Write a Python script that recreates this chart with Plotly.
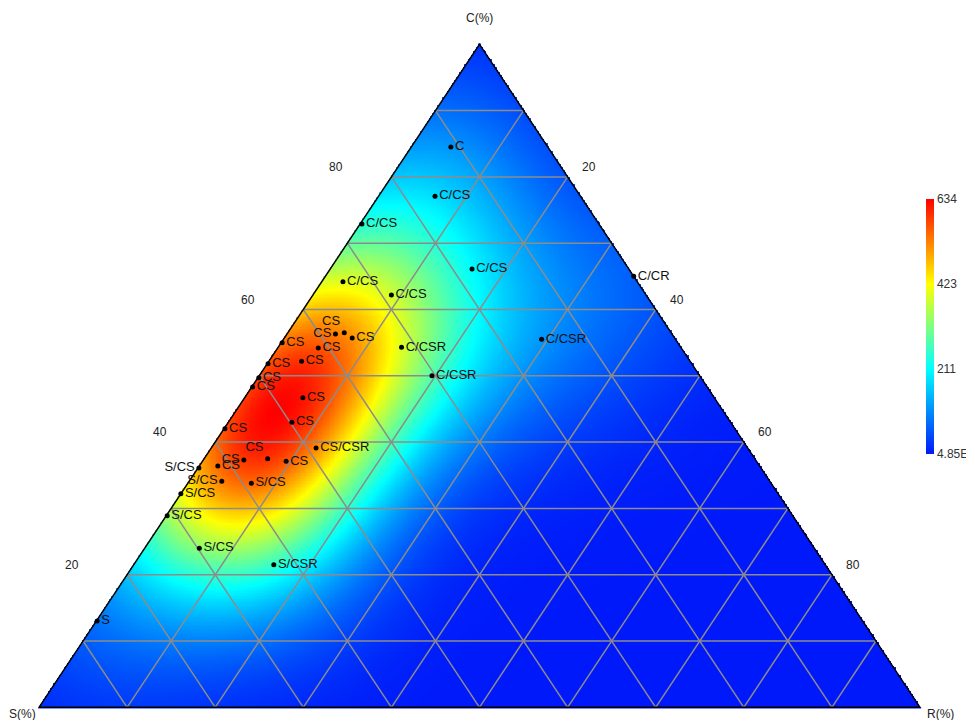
import numpy as np
import plotly.graph_objects as go

# ---- data (percentages) ----
labels = ["C", "C/CS", "C/CS", "C/CS", "C/CS", "C/CS", "C/CR", "C/CSR", "C/CSR", "C/CSR",
          "CS", "CS", "CS", "CS", "CS", "CS", "CS", "CS", "CS", "CS", "CS", "CS",
          "CS/CSR", "CS", "CS", "CS", "CS",
          "S/CS", "S/CS", "S/CS", "S/CS", "S/CS", "S/CS", "S/CSR", "S"]
C_vals = [84.5, 77.1, 72.9, 64.2, 62.2, 66.1, 65.0, 55.5, 54.3, 50.0,
          56.3, 56.5, 55.7, 55.0, 54.2, 52.2, 51.8, 49.7, 48.3, 46.7, 43.0, 42.0,
          39.1, 37.5, 37.3, 37.1, 36.4,
          36.1, 34.1, 33.8, 32.2, 28.9, 24.0, 21.5, 13.0]
R_vals = [4.5, 6.4, 0.2, 2.4, 8.9, 16.1, 35.0, 29.3, 14.0, 19.6,
          5.5, 6.4, 7.7, 0.1, 4.6, 3.7, 0.1, 0.1, 0.1, 6.6, 7.2, 0.1,
          11.9, 7.2, 4.6, 9.5, 2.1,
          0.1, 3.7, 7.2, 0.0, 0.1, 6.2, 15.9, 0.1]
S_vals = [100 - c - r for c, r in zip(C_vals, R_vals)]
label_pos = ["middle right"] * len(labels)
for i, p in [(10, "middle left"), (11, "top left"), (23, "top left"), (24, "middle left"),
             (27, "middle left"), (28, "middle left")]:
    label_pos[i] = p

grid_levels = [10, 20, 30, 40, 50, 60, 70, 80, 90]
tick_levels = [20, 40, 60, 80]
cbar_vals = [0, 211, 423, 634]
cbar_text = ["4.85E", "211", "423", "634"]
zmax = 634

# ---- geometry helpers (ternary -> cartesian, unit base, C as height) ----
def tx(c, r):
    return r / 100.0 + c / 200.0

def ty(c):
    return c / 100.0

PXW, PXH = 881.0, 663.0  # rendered size of triangle in pixels
OFF = 8  # page body margin offset of the browser

# ---- density field (Gaussian kernel estimate from the points) ----
nx, ny = 520, 420
gx = np.linspace(0, 1, nx)
gy = np.linspace(0, 1, ny)
GX, GY = np.meshgrid(gx, gy)
px = np.array([tx(c, r) for c, r in zip(C_vals, R_vals)]) * PXW
py = np.array([ty(c) for c in C_vals]) * PXH
sigma = 78.0
dens = np.zeros_like(GX)
for a, b in zip(px, py):
    dens += np.exp(-((GX * PXW - a) ** 2 + (GY * PXH - b) ** 2) / (2 * sigma ** 2))
z = dens / dens.max() * zmax
inside = (GX >= GY / 2 - 1e-3) & (GX <= 1 - GY / 2 + 1e-3)
z = np.where(inside, z, np.nan)

colorscale = [[0.0, "rgb(0,25,250)"], [1 / 3, "rgb(0,255,255)"],
              [2 / 3, "rgb(255,255,0)"], [1.0, "rgb(255,0,0)"]]

fig = go.Figure()
fig.add_trace(go.Heatmap(
    x=gx, y=gy, z=z, zmin=0, zmax=zmax, colorscale=colorscale, zsmooth=False,
    hoverinfo="skip",
    colorbar=dict(thickness=8, len=255 / 720, lenmode="fraction", x=(926 - OFF) / 974, xanchor="left",
                  y=1 - (199 - OFF) / 720, yanchor="top", outlinewidth=0, ticks="",
                  tickvals=cbar_vals, ticktext=cbar_text, xpad=0, ypad=0,
                  tickfont=dict(family="Liberation Sans, Arial", size=12, color="#333"))))

# grid lines
lx, ly = [], []
for v in grid_levels:
    lx += [tx(v, 0), tx(v, 100 - v), None]; ly += [ty(v), ty(v), None]
    lx += [tx(0, v), tx(100 - v, v), None]; ly += [ty(0), ty(100 - v), None]
    lx += [tx(0, 100 - v), tx(100 - v, 0), None]; ly += [ty(0), ty(100 - v), None]
fig.add_trace(go.Scatter(x=lx, y=ly, mode="lines", line=dict(color="rgb(140,140,140)", width=1.5),
                         hoverinfo="skip", showlegend=False))

# border
bx = [tx(0, 0), tx(0, 100), tx(100, 0), tx(0, 0)]
by = [ty(0), ty(0), ty(100), ty(0)]
fig.add_trace(go.Scatter(x=bx, y=by, mode="lines", line=dict(color="black", width=1.5),
                         hoverinfo="skip", showlegend=False))

# points
fig.add_trace(go.Scatter(
    x=[tx(c, r) for c, r in zip(C_vals, R_vals)], y=[ty(c) for c in C_vals],
    mode="markers+text", text=labels, textposition=label_pos,
    marker=dict(color="black", size=5),
    textfont=dict(family="Liberation Sans, Arial", size=13, color="#111"),
    showlegend=False, hoverinfo="text"))

ann = []
font = dict(family="Liberation Sans, Arial", size=12, color="#222")
for v in tick_levels:
    ann.append(dict(x=tx(v, 0), y=ty(v), text=str(v), showarrow=False, xshift=-55, yshift=10, font=font))
    ann.append(dict(x=tx(100 - v, v), y=ty(100 - v), text=str(v), showarrow=False, xshift=21, yshift=10, font=font))
ann.append(dict(x=tx(100, 0), y=ty(100), text="C(%)", showarrow=False, yshift=26, font=font))
ann.append(dict(x=tx(0, 0), y=ty(0), text="S(%)", showarrow=False, xshift=-17, yshift=-7, font=font))
ann.append(dict(x=tx(0, 100), y=ty(0), text="R(%)", showarrow=False, xshift=20, yshift=-7, font=font))

x0 = -(39 - OFF) / PXW
y0 = -(720 - (707.3 - OFF)) / PXH
fig.update_layout(
    width=974, height=720, margin=dict(l=0, r=0, t=0, b=0, autoexpand=False),
    paper_bgcolor="white", plot_bgcolor="white",
    xaxis=dict(range=[x0, x0 + 974 / PXW], visible=False, fixedrange=True),
    yaxis=dict(range=[y0, y0 + 720 / PXH], visible=False, fixedrange=True),
    annotations=ann, showlegend=False)

fig.write_html("out.html")
